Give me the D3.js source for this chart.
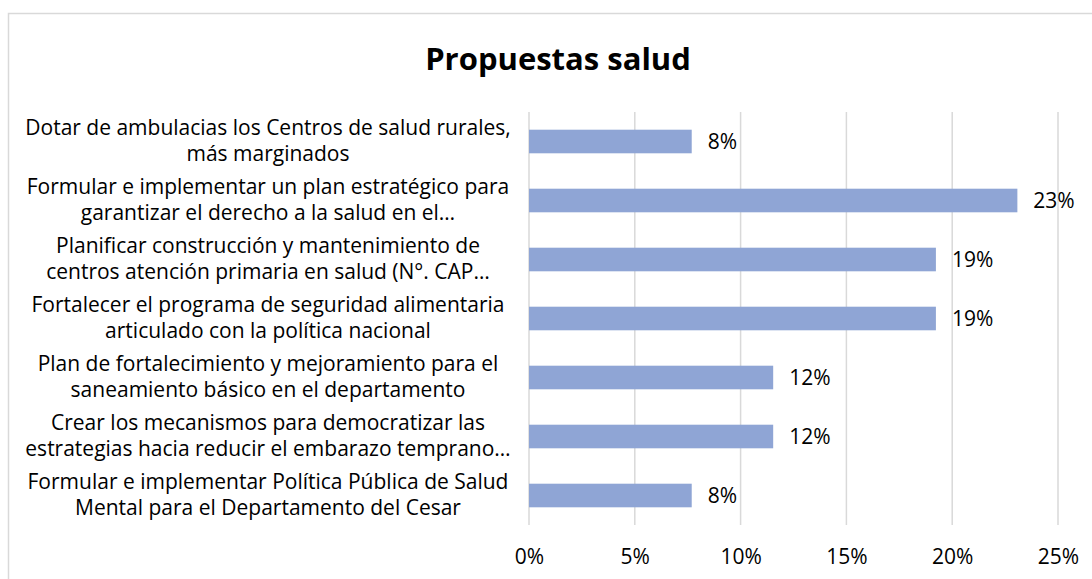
<!DOCTYPE html>
<html>
<head>
<meta charset="utf-8">
<script src="https://cdn.jsdelivr.net/npm/d3@7"></script>
<style>
  body { margin: 0; background: #fff; }
  svg { display: block; }
  text { font-family: "Open Sans", sans-serif; fill: #000; }
</style>
</head>
<body>
<div id="chart"></div>
<script>
const width = 1092;
const height = 579;

const categories = [
  ['Dotar de ambulacias los Centros de salud rurales,', 'más marginados'],
  ['Formular e implementar un plan estratégico para', 'garantizar el derecho a la salud en el…'],
  ['Planificar construcción y mantenimiento de', 'centros atención primaria en salud (N°. CAP…'],
  ['Fortalecer el programa de seguridad alimentaria', 'articulado con la política nacional'],
  ['Plan de fortalecimiento y mejoramiento para el', 'saneamiento básico en el departamento'],
  ['Crear los mecanismos para democratizar las', 'estrategias hacia reducir el embarazo temprano…'],
  ['Formular e implementar Política Pública de Salud', 'Mental para el Departamento del Cesar']
];
const values = [0.0769, 0.2308, 0.1923, 0.1923, 0.1154, 0.1154, 0.0769];
const ticks = [0, 0.05, 0.10, 0.15, 0.20, 0.25];

const margin = { top: 112, right: 34, bottom: 54, left: 529 };
const fontSize = 21;

const svg = d3.select('#chart').append('svg')
  .attr('width', width)
  .attr('height', height);

// chart frame
svg.append('rect')
  .attr('x', 8.5).attr('y', 13.5)
  .attr('width', width + 20).attr('height', height + 20)
  .attr('fill', 'none')
  .attr('stroke', '#d9d9d9')
  .attr('stroke-width', 1.5);

svg.append('text')
  .attr('x', 558).attr('y', 70)
  .attr('text-anchor', 'middle')
  .style('font-size', '31px')
  .style('font-weight', 'bold')
  .text('Propuestas salud');

const x = d3.scaleLinear()
  .domain([0, 0.25])
  .range([margin.left, width - margin.right]);

const y = d3.scaleBand()
  .domain(d3.range(categories.length))
  .range([margin.top, height - margin.bottom])
  .paddingInner(0.6)
  .paddingOuter(0.3);

// gridlines
svg.append('g')
  .selectAll('line')
  .data(ticks)
  .enter()
  .append('line')
  .attr('x1', (d) => x(d)).attr('x2', (d) => x(d))
  .attr('y1', margin.top).attr('y2', height - margin.bottom)
  .attr('stroke', '#d9d9d9')
  .attr('stroke-width', 1.5);

// bars
svg.append('g')
  .selectAll('rect')
  .data(values)
  .enter()
  .append('rect')
  .attr('x', x(0))
  .attr('y', (_, i) => y(i))
  .attr('width', (d) => x(d) - x(0))
  .attr('height', y.bandwidth())
  .attr('fill', '#8fa5d5');

// value labels
svg.append('g')
  .selectAll('text')
  .data(values)
  .enter()
  .append('text')
  .attr('x', (d) => x(d) + 16)
  .attr('y', (_, i) => y(i) + y.bandwidth() / 2 + 7)
  .style('font-size', fontSize + 'px')
  .text((d) => d3.format('.0%')(d));

// x axis labels
const xAxis = svg.append('g')
  .attr('transform', `translate(0,${height - margin.bottom})`)
  .call(d3.axisBottom(x).tickValues(ticks).tickFormat(d3.format('.0%')).tickSize(0).tickPadding(24));
xAxis.select('.domain').remove();
xAxis.selectAll('text')
  .style('font-size', fontSize + 'px')
  .style('font-family', '"Open Sans", sans-serif')
  .attr('fill', '#000');

// category labels, two lines each, centred
const labels = svg.append('g')
  .selectAll('text')
  .data(categories)
  .enter()
  .append('text')
  .attr('text-anchor', 'middle')
  .attr('y', (_, i) => y(i) + y.bandwidth() / 2)
  .style('font-size', fontSize + 'px');

labels.selectAll('tspan')
  .data((d) => d)
  .enter()
  .append('tspan')
  .attr('x', 268)
  .attr('dy', (_, j) => (j === 0 ? -7 : 26))
  .text((d) => d);
</script>
</body>
</html>
